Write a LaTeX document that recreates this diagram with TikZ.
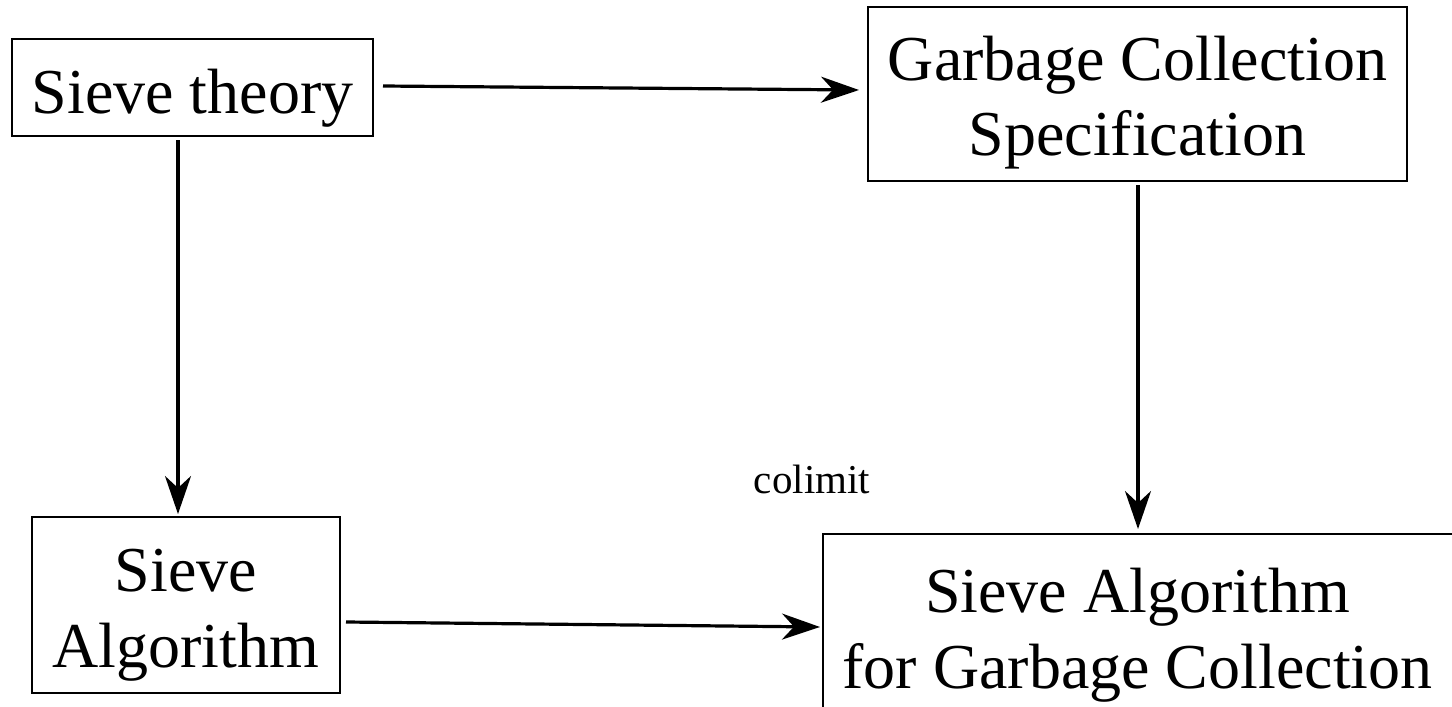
\documentclass[tikz,border=0pt]{standalone}
\usepackage{fontspec}
\newfontfamily\timesfont{Liberation Serif}
\usetikzlibrary{arrows.meta,calc}
\begin{document}
\begin{tikzpicture}[x=1pt,y=-1pt,
  frame/.style={draw=black, line width=2pt, inner sep=0pt, rectangle},
  big/.style={anchor=base, inner sep=0pt},
  small/.style={anchor=base, inner sep=0pt},
  arr/.style={line width=3.2pt, -{Stealth[length=38pt,width=26pt,inset=12pt]}}]
  % page area
  \fill[white] (0,0) rectangle (1452,707);
  \useasboundingbox (0,0) rectangle (1452,707);

  % boxes (the last one runs past the right and lower page edges)
  \node[frame, minimum width=361pt, minimum height=97pt] (b1) at (192.5,87.5) {};
  \node[frame, minimum width=539pt, minimum height=174pt] (b2) at (1137.5,94) {};
  \node[frame, minimum width=308pt, minimum height=176pt] (b3) at (186,605) {};
  \node[frame, minimum width=639pt, minimum height=188pt] (b4) at (1142.5,628) {};

  % box texts
  \node[big] (t1) at (192.5,113) {\timesfont\fontsize{64}{76}\selectfont Sieve theory};
  \node[big] (t2a) at (1137.5,80) {\timesfont\fontsize{64}{76}\selectfont Garbage Collection};
  \node[big] (t2b) at (1137.5,155) {\timesfont\fontsize{64}{76}\selectfont Specification};
  \node[big] (t3a) at (186,591) {\timesfont\fontsize{64}{76}\selectfont Sieve};
  \node[big] (t3b) at (186,667) {\timesfont\fontsize{64}{76}\selectfont Algorithm};
  \node[big] (t4a) at (1137.5,612) {\timesfont\fontsize{64}{76}\selectfont Sieve Algorithm};
  \node[big] (t4b) at (1137.5,688) {\timesfont\fontsize{64}{76}\selectfont for Garbage Collection};
  \node[small] (lbl) at (812,493) {\timesfont\fontsize{41}{48}\selectfont colimit};

  % morphisms
  \draw[arr] ($(b1.east)+(9,-1.5)$) -- ($(b2.west)+(-8,-4)$);
  \draw[arr] ($(b1.south)+(-14.5,3)$) -- ($(b3.north)+(-8,-2)$);
  \draw[arr] ($(b2.south)+(0.5,3)$) -- ($(b4.north)+(-4.5,-4)$);
  \draw[arr] ($(b3.east)+(5,17)$) -- ($(b4.west)+(-2,-1)$);
\end{tikzpicture}
\end{document}
